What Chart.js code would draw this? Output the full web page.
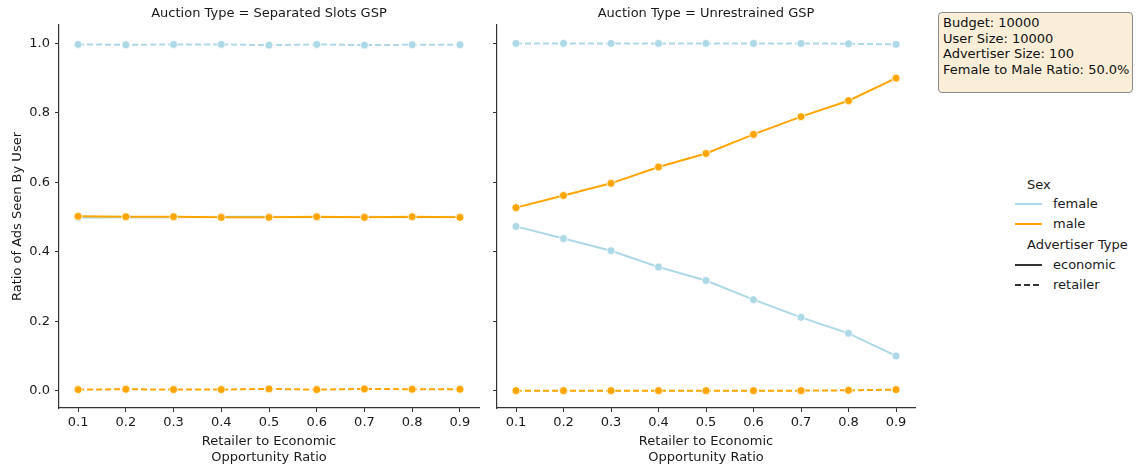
<!DOCTYPE html>
<html>
<head>
<meta charset="utf-8">
<script src="https://cdn.jsdelivr.net/npm/chart.js@4"></script>
<style>
  body { margin: 0; background: #fff; font-family: "DejaVu Sans", sans-serif; }
  #wrap { position: relative; width: 1136px; height: 468px; overflow: hidden; }
  canvas { position: absolute; top: 0; }
  #left { left: 0; }
  #right { left: 490px; }
  .box {
    position: absolute; left: 938px; top: 12px; width: 195px; height: 81px;
    background: #faeed9; border: 1px solid #8c8c8c; border-radius: 4px;
    font-size: 13px; line-height: 15.5px; color: #111; padding: 2px 0 0 4px; box-sizing: border-box;
  }
  .legend { position: absolute; left: 0; top: 0; font-size: 13px; color: #1a1a1a; }
  .legend div { position: absolute; white-space: nowrap; }
  .sw { position: absolute; width: 27px; height: 2px; }
  .dash { background: repeating-linear-gradient(to right, #333 0 6px, transparent 6px 9px); }
</style>
</head>
<body>
<div id="wrap">
  <canvas id="left" width="490" height="468"></canvas>
  <canvas id="right" width="440" height="468"></canvas>
  <div class="box">Budget: 10000<br>User Size: 10000<br>Advertiser Size: 100<br>Female to Male Ratio: 50.0%</div>
  <div class="legend">
    <div style="left:1027px;top:177px">Sex</div>
    <span class="sw" style="left:1015px;top:203px;background:#add8e6"></span>
    <div style="left:1053px;top:196px">female</div>
    <span class="sw" style="left:1015px;top:223px;background:#ffa500"></span>
    <div style="left:1053px;top:216px">male</div>
    <div style="left:1027px;top:237px">Advertiser Type</div>
    <span class="sw" style="left:1015px;top:264px;background:#333"></span>
    <div style="left:1053px;top:257px">economic</div>
    <span class="sw dash" style="left:1015px;top:284px"></span>
    <div style="left:1053px;top:277px">retailer</div>
  </div>
</div>
<script>
const xValues = [0.1, 0.2, 0.3, 0.4, 0.5, 0.6, 0.7, 0.8, 0.9];
const yTicks = [0.0, 0.2, 0.4, 0.6, 0.8, 1.0];

// Separated Slots GSP
const sepFemaleEconomic = [0.498, 0.499, 0.499, 0.501, 0.501, 0.499, 0.501, 0.499, 0.501];
const sepFemaleRetailer = [0.997, 0.996, 0.997, 0.997, 0.995, 0.997, 0.995, 0.996, 0.996];
const sepMaleEconomic   = [0.502, 0.501, 0.501, 0.499, 0.499, 0.501, 0.499, 0.501, 0.499];
const sepMaleRetailer   = [0.003, 0.004, 0.003, 0.003, 0.005, 0.003, 0.005, 0.004, 0.004];

// Unrestrained GSP
const unrFemaleEconomic = [0.473, 0.438, 0.403, 0.356, 0.317, 0.262, 0.211, 0.165, 0.100];
const unrFemaleRetailer = [1.000, 1.000, 1.000, 1.000, 1.000, 1.000, 1.000, 0.999, 0.997];
const unrMaleEconomic   = [0.527, 0.562, 0.597, 0.644, 0.683, 0.738, 0.789, 0.835, 0.900];
const unrMaleRetailer   = [0.000, 0.000, 0.000, 0.000, 0.000, 0.000, 0.000, 0.001, 0.003];

const FEMALE = '#add8e6';
const MALE = '#ffa500';
const TEXT = '#1a1a1a';
const font = { family: 'DejaVu Sans', size: 13 };

function series(vals, color, dashed, order) {
  return {
    data: xValues.map((x, i) => ({ x: x, y: vals[i] })),
    borderColor: color,
    backgroundColor: color,
    borderWidth: 2,
    borderDash: dashed ? [6, 3] : [],
    pointRadius: 4,
    pointBorderColor: '#fff',
    pointBorderWidth: 0.8,
    pointBackgroundColor: color,
    order: order
  };
}

const panelTitle = {
  id: 'panelTitle',
  afterDraw(chart, args, opts) {
    const c = chart.ctx, a = chart.chartArea;
    c.save();
    c.font = '13px "DejaVu Sans"';
    c.fillStyle = TEXT;
    c.textAlign = 'center';
    c.textBaseline = 'middle';
    c.fillText(opts.text, (a.left + a.right) / 2, 14);
    c.restore();
  }
};

function makePanel(id, title, fe, fr, me, mr, isLeft, yWidth, padRight) {
  new Chart(document.getElementById(id), {
    type: 'line',
    data: {
      datasets: [
        series(fe, FEMALE, false, 4),
        series(fr, FEMALE, true, 3),
        series(me, MALE, false, 2),
        series(mr, MALE, true, 1)
      ]
    },
    options: {
      responsive: false,
      animation: false,
      devicePixelRatio: 1,
      layout: { padding: { top: 25, right: padRight, left: 0, bottom: 0 } },
      plugins: {
        legend: { display: false },
        tooltip: { enabled: false },
        panelTitle: { text: title }
      },
      scales: {
        x: {
          type: 'linear',
          min: 0.06,
          max: 0.94,
          afterBuildTicks: s => { s.ticks = xValues.map(v => ({ value: v })); },
          afterFit: s => { s.height = 60; },
          ticks: { font: font, color: TEXT, padding: 3, maxRotation: 0,
                   callback: v => v.toFixed(1) },
          grid: { drawOnChartArea: false, drawTicks: true, tickLength: 4, color: '#333' },
          border: { color: '#333', width: 1.2 },
          title: { display: true, text: ['Retailer to Economic', 'Opportunity Ratio'],
                   font: { family: 'DejaVu Sans', size: 13, lineHeight: 1.2 },
                   color: TEXT, padding: { top: 0, bottom: 3 } }
        },
        y: {
          min: -0.05,
          max: 1.053,
          afterBuildTicks: s => { s.ticks = yTicks.map(v => ({ value: v })); },
          afterFit: s => { s.width = yWidth; },
          ticks: { font: font, color: TEXT, padding: 5,
                   callback: v => isLeft ? v.toFixed(1) : '' },
          grid: { drawOnChartArea: false, drawTicks: true, tickLength: 4, color: '#333' },
          border: { color: '#333', width: 1.2 },
          title: { display: isLeft, text: 'Ratio of Ads Seen By User',
                   font: font, color: TEXT, padding: { top: 10, bottom: 0 } }
        }
      }
    },
    plugins: [panelTitle]
  });
}

makePanel('left', 'Auction Type = Separated Slots GSP',
  sepFemaleEconomic, sepFemaleRetailer, sepMaleEconomic, sepMaleRetailer, true, 59, 11);
makePanel('right', 'Auction Type = Unrestrained GSP',
  unrFemaleEconomic, unrFemaleRetailer, unrMaleEconomic, unrMaleRetailer, false, 7, 15);
</script>
</body>
</html>
